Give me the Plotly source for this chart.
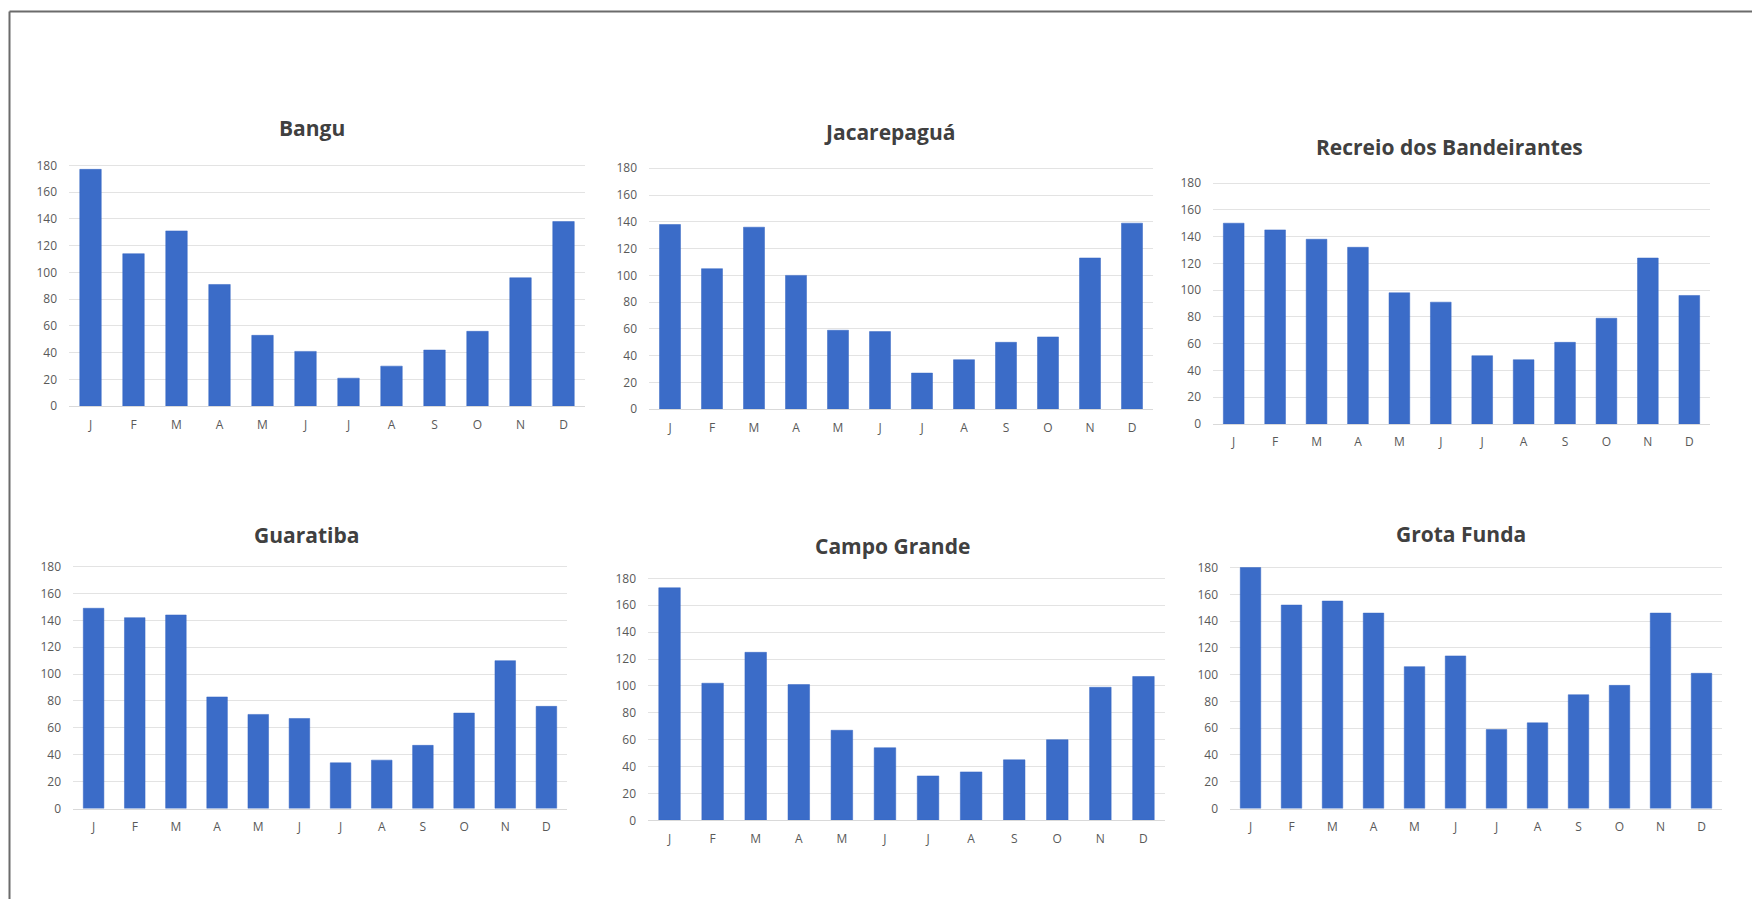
import plotly.graph_objects as go

months = ["J", "F", "M", "A", "M", "J", "J", "A", "S", "O", "N", "D"]
month_keys = list(range(12))

titles = ["Bangu", "Jacarepaguá", "Recreio dos Bandeirantes",
          "Guaratiba", "Campo Grande", "Grota Funda"]

bangu = [177, 114, 131, 91, 53, 41, 21, 30, 42, 56, 96, 138]
jacarepagua = [138, 105, 136, 100, 59, 58, 27, 37, 50, 54, 113, 139]
recreio = [150, 145, 138, 132, 98, 91, 51, 48, 61, 79, 124, 96]
guaratiba = [149, 142, 144, 83, 70, 67, 34, 36, 47, 71, 110, 76]
campo_grande = [173, 102, 125, 101, 67, 54, 33, 36, 45, 60, 99, 107]
grota_funda = [180, 152, 155, 146, 106, 114, 59, 64, 85, 92, 146, 101]

series = [bangu, jacarepagua, recreio, guaratiba, campo_grande, grota_funda]
y_ticks = [0, 20, 40, 60, 80, 100, 120, 140, 160, 180]
y_max = 180
y_pad = 1.5

W, H = 1752, 907
# plot areas in pixels: (x0, x1, y of 180 gridline, y of 0 baseline)
areas = [
    (69, 585, 161, 406),
    (649, 1153, 164, 409),
    (1213, 1710, 179, 424),
    (73, 567, 569, 815),
    (648, 1165, 581, 827),
    (1230, 1722, 570, 815),
]
title_pos = [
    (312, 123), (890, 127), (1449, 142),
    (306, 537), (892, 548), (1461, 536),
]

fig = go.Figure()
layout = dict(
    width=W, height=H,
    margin=dict(l=0, r=0, t=0, b=0),
    paper_bgcolor="white", plot_bgcolor="white",
    showlegend=False, bargap=0.5,
    font=dict(family="Open Sans, Lato, sans-serif", color="#595959", size=12),
)

for i, (vals, (x0, x1, yt, yb)) in enumerate(zip(series, areas)):
    n = "" if i == 0 else str(i + 1)
    per_unit = (yb - yt) / y_max
    top_px = yt - per_unit * y_pad
    fig.add_trace(go.Bar(
        x=month_keys, y=vals,
        xaxis="x" + n, yaxis="y" + n,
        marker=dict(color="#3b6cc8", line=dict(color="#3465c3", width=0.5)),
        hoverinfo="y",
    ))
    layout["xaxis" + n] = dict(
        domain=[x0 / W, x1 / W], anchor="y" + n,
        tickmode="array", tickvals=month_keys, ticktext=months,
        range=[-0.5, 11.5], showgrid=False, zeroline=False,
        showline=True, linecolor="#d9d9d9", linewidth=1,
        ticks="", ticklen=0, ticklabelstandoff=7,
        tickfont=dict(size=12, color="#595959"),
        fixedrange=True,
    )
    layout["yaxis" + n] = dict(
        domain=[1 - yb / H, 1 - top_px / H], anchor="x" + n,
        range=[0, y_max + y_pad], tickmode="array", tickvals=y_ticks,
        showgrid=True, gridcolor="#e3e3e3", gridwidth=1,
        zeroline=False, showline=False, ticks="",
        tickfont=dict(size=12, color="#595959"), ticklabelstandoff=11,
        fixedrange=True,
    )

annotations = []
for t, (cx, cy) in zip(titles, title_pos):
    annotations.append(dict(
        text="<b>" + t + "</b>", x=cx / W, y=1 - cy / H,
        xref="paper", yref="paper", xanchor="center", yanchor="middle",
        showarrow=False,
        font=dict(family="Open Sans, Lato, sans-serif", size=21, color="#404040"),
    ))
layout["annotations"] = annotations

layout["shapes"] = [
    dict(type="line", xref="paper", yref="paper",
         x0=9.5 / W, x1=1, y0=1 - 4.5 / H, y1=1 - 4.5 / H,
         line=dict(color="#6b6b6b", width=2)),
    dict(type="line", xref="paper", yref="paper",
         x0=9.5 / W, x1=9.5 / W, y0=0, y1=1 - 4.5 / H,
         line=dict(color="#6b6b6b", width=2)),
]

fig.update_layout(**layout)
fig.write_html("out.html")
